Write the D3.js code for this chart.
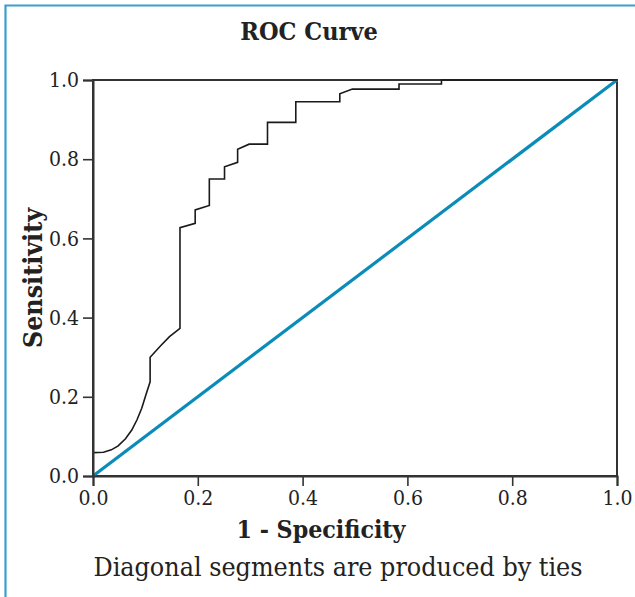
<!DOCTYPE html>
<html><head><meta charset="utf-8">
<script src="https://cdn.jsdelivr.net/npm/d3@7"></script>
<style>
body{margin:0;background:#fff;}
svg{display:block;}
text{font-family:"DejaVu Serif Condensed","DejaVu Serif",serif;font-stretch:condensed;fill:#222;}
</style></head><body>
<svg id="c" width="635" height="597"></svg>
<script>
// ROC curve points (1 - specificity, sensitivity)
const fpr = [0.000,0.020,0.035,0.048,0.062,0.074,0.084,0.093,0.101,0.109,0.109,0.130,0.146,0.166,0.166,0.195,0.195,0.222,0.222,0.251,0.251,0.276,0.276,0.298,0.333,0.333,0.387,0.387,0.471,0.471,0.495,0.584,0.584,0.665,0.665,1.000];
const tpr = [0.059,0.060,0.066,0.076,0.094,0.116,0.142,0.171,0.205,0.238,0.300,0.330,0.352,0.373,0.627,0.638,0.672,0.683,0.750,0.750,0.781,0.792,0.825,0.838,0.838,0.893,0.893,0.945,0.945,0.965,0.977,0.977,0.990,0.990,1.000,1.000];
const refX = [0,1];
const refY = [0,1];
const tickValues = [0,0.2,0.4,0.6,0.8,1.0];

const svg = d3.select("#c");
const L=93,R=617,T=80,B=476;
const x = d3.scaleLinear().domain([0,1]).range([L,R]);
const y = d3.scaleLinear().domain([0,1]).range([B,T]);

// outer frame (blue, cropped at right/bottom)
svg.append("path").attr("d","M5.5,597 V5.5 H635").attr("fill","none").attr("stroke","#3a9fcb").attr("stroke-width",2.2);

// plot box
svg.append("rect").attr("x",L).attr("y",T).attr("width",R-L).attr("height",B-T)
  .attr("fill","none").attr("stroke","#333").attr("stroke-width",2);

// reference diagonal
svg.append("path").datum(d3.range(refX.length))
  .attr("d",d3.line().x(i=>x(refX[i])).y(i=>y(refY[i])))
  .attr("fill","none").attr("stroke","#0b8cb8").attr("stroke-width",3.2);

// ROC curve
svg.append("path").datum(d3.range(fpr.length))
  .attr("d",d3.line().x(i=>x(fpr[i])).y(i=>y(tpr[i])))
  .attr("fill","none").attr("stroke","#1a1a1a").attr("stroke-width",1.6).attr("stroke-linejoin","miter");

// axes
const ax = svg.append("g").attr("transform",`translate(0,${B})`)
  .call(d3.axisBottom(x).tickValues(tickValues).tickFormat(d3.format(".1f")).tickSize(10).tickPadding(4));
const ay = svg.append("g").attr("transform",`translate(${L},0)`)
  .call(d3.axisLeft(y).tickValues(tickValues).tickFormat(d3.format(".1f")).tickSize(10).tickPadding(4));
[ax,ay].forEach(g=>{
  g.select(".domain").attr("stroke","#333").attr("stroke-width",2);
  g.selectAll(".tick line").attr("stroke","#333").attr("stroke-width",1.6);
  g.selectAll(".tick text").attr("font-size",21).attr("fill","#222")
   .style("font-family",'"DejaVu Serif Condensed","DejaVu Serif",serif');
});

// titles
svg.append("text").attr("x",309).attr("y",40).attr("text-anchor","middle")
  .attr("font-size",25).attr("font-weight","bold").text("ROC Curve");
svg.append("text").attr("x",321).attr("y",538).attr("text-anchor","middle")
  .attr("font-size",24.7).attr("font-weight","bold").text("1 - Specificity");
svg.append("text").attr("transform","translate(42,278) rotate(-90)").attr("text-anchor","middle")
  .attr("font-size",26.5).attr("font-weight","bold").text("Sensitivity");
svg.append("text").attr("x",338).attr("y",576).attr("text-anchor","middle")
  .attr("font-size",26.6).text("Diagonal segments are produced by ties");
</script></body></html>
